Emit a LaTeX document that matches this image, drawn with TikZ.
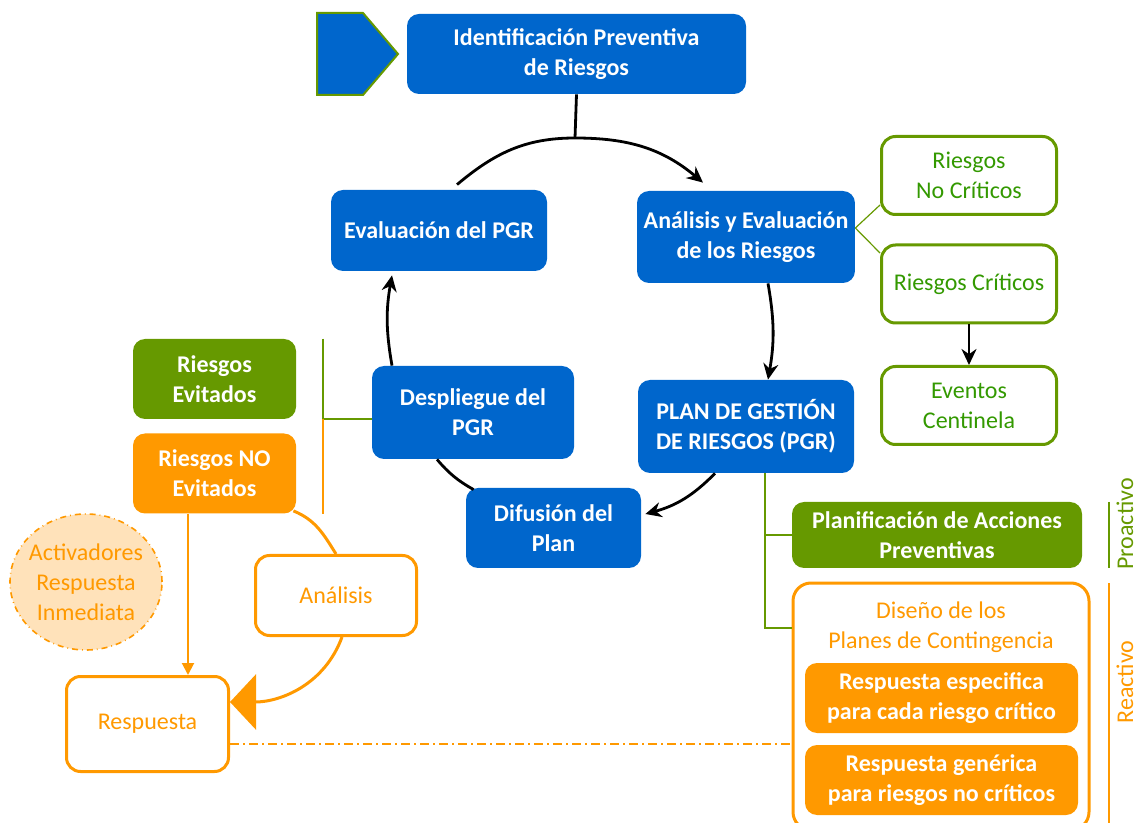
\documentclass[tikz,border=0pt]{standalone}
\usepackage{fontspec}
\setmainfont{Carlito}
\usetikzlibrary{arrows.meta,shapes.geometric}

\definecolor{pgrblue}{RGB}{0,102,204}
\definecolor{pgrgreen}{RGB}{102,153,0}
\definecolor{txtgreen}{RGB}{51,153,0}
\definecolor{pgrorange}{RGB}{255,153,0}
\definecolor{lightorange}{RGB}{255,226,186}

\newcommand\pgrfont{\fontsize{12}{15}\selectfont}

\tikzset{
  bluebox/.style={rectangle, rounded corners=6pt, fill=pgrblue, text=white, font=\pgrfont\bfseries, align=center},
  gframe/.style={rectangle, rounded corners=7pt, draw=pgrgreen, line width=1.5pt, fill=white, text=txtgreen, font=\pgrfont, align=center, minimum width=87.5pt, minimum height=39pt},
  gfill/.style={rectangle, rounded corners=6pt, fill=pgrgreen, text=white, font=\pgrfont\bfseries, align=center},
  ofill/.style={rectangle, rounded corners=6pt, fill=pgrorange, text=white, font=\pgrfont\bfseries, align=center},
  oframe/.style={rectangle, rounded corners=7pt, draw=pgrorange, line width=1.5pt, fill=white, text=pgrorange, font=\pgrfont, align=center},
  otext/.style={text=pgrorange, font=\pgrfont, align=center},
  cyc/.style={draw=black, line width=1.4pt},
  gline/.style={draw=pgrgreen, line width=1pt},
  oline/.style={draw=pgrorange, line width=1.5pt},
}

\begin{document}
\begin{tikzpicture}[x=0.5pt, y=-0.5pt, >={Stealth[length=8pt,width=7.5pt]}]

  \useasboundingbox (0,0) rectangle (1141,823);
  \clip (0,0) rectangle (1141,823);

  % x of the bars beside Proactivo / Reactivo
  \def\xb{1109}

  % arrow shape at the start
  \draw[draw=pgrgreen, fill=pgrblue, line width=1pt] (317,13) -- (363,13) -- (398,54) -- (363,95) -- (317,95) -- cycle;

  % the cycle
  \node[bluebox, minimum width=169.5pt, minimum height=40pt] (ident) at (576.5,54) {Identificación Preventiva\\de Riesgos};
  \node[bluebox, minimum width=108pt, minimum height=40.5pt] (eval) at (439,230.5) {Evaluación del PGR};
  \node[bluebox, minimum width=108pt, minimum height=46pt] (analisis) at (746,237) {Análisis y Evaluación\\de los Riesgos};
  \node[bluebox, minimum width=101pt, minimum height=46.5pt] (despliegue) at (473,412.5) {Despliegue del\\PGR};
  \node[bluebox, minimum width=108pt, minimum height=46.5pt] (plan) at (746,426.5) {PLAN DE GESTIÓN\\DE RIESGOS (PGR)};
  \node[bluebox, minimum width=87.5pt, minimum height=40pt] (difusion) at (553.5,528) {Difusión del\\Plan};

  % kinds of risk
  \node[gframe] (nocrit) at (969,175.5) {Riesgos\\No Críticos};
  \node[gframe] (crit) at (969,284) {Riesgos Críticos};
  \node[gframe] (eventos) at (969,405.5) {Eventos\\Centinela};

  % left side
  \node[gfill, minimum width=81.5pt, minimum height=40pt] (evitados) at (214.5,379) {Riesgos\\Evitados};
  \node[ofill, minimum width=81.5pt, minimum height=40pt] (noevitados) at (214.5,473.5) {Riesgos NO\\Evitados};
  \node[ellipse, draw=pgrorange, fill=lightorange, dash dot, line width=0.8pt, minimum width=76pt, minimum height=68pt, inner sep=0pt,
        label={[otext]center:Activadores\\Respuesta\\Inmediata}] (activadores) at (86,582) {};
  \node[oframe, minimum width=80.5pt, minimum height=40pt] (analisisb) at (336,595.5) {Análisis};
  \node[oframe, minimum width=81pt, minimum height=47.5pt] (respuesta) at (147.5,724) {Respuesta};

  % right side, bottom
  \node[gfill, minimum width=145pt, minimum height=33pt] (planif) at (937,535) {Planificación de Acciones\\Preventivas};
  \node[oframe, rounded corners=9pt, minimum width=148pt, minimum height=123.5pt] (marco) at (941,706.5) {};
  \node[otext] (diseno) at (941,627.5) {Diseño de los\\Planes de Contingencia};
  \node[ofill, minimum width=136.5pt, minimum height=35pt] (respesp) at (941.5,698) {Respuesta especifica\\para cada riesgo crítico};
  \node[ofill, minimum width=136.5pt, minimum height=35pt] (respgen) at (941.5,780) {Respuesta genérica\\para riesgos no críticos};

  \node[rotate=90, text=pgrgreen, font=\pgrfont] (proactivo) at (1125,524) {Proactivo};
  \node[rotate=90, text=pgrorange, font=\pgrfont] (reactivo) at (1125,682) {Reactivo};

  % arrows of the cycle
  \coordinate (top) at (575,138);
  \draw[cyc] (ident.south) -- (top);
  \draw[cyc, ->] ([xshift=9pt,yshift=2.5pt]eval.north) to[out=40,in=180] (top) to[out=0,in=140] ([xshift=-21.5pt,yshift=4pt]analisis.north);
  \draw[cyc, ->] ([xshift=11pt]analisis.south) to[bend left=10] ([xshift=11pt]plan.north);
  \draw[cyc, ->] ([xshift=-15.5pt]plan.south) to[bend left=15] ([xshift=2pt,yshift=7pt]difusion.east);
  \draw[cyc] ([xshift=-18pt]despliegue.south) to[bend right=10] ([xshift=4pt,yshift=-1pt]difusion.north west);
  \draw[cyc, ->] ([xshift=-40.5pt]despliegue.north) to[bend left=10] ([xshift=-23.5pt,yshift=-2pt]eval.south);

  % risks found by the analysis
  \draw[gline, line width=0.6pt] ([yshift=4.5pt]analisis.east) -- ([yshift=-14.75pt]nocrit.west);
  \draw[gline, line width=0.6pt] ([yshift=4.5pt]analisis.east) -- ([yshift=15.5pt]crit.west);
  \draw[cyc, ->] (crit.south) -- (eventos.north);

  % bracket on the left
  \coordinate (brk) at (323,419);
  \draw[gline] (brk |- evitados.north) -- (brk) -- (brk -| despliegue.west);
  \draw[gline, pgrorange] (brk) -- (brk |- noevitados.south);

  % response
  \draw[oline, line width=1pt, -{Triangle[length=6pt,width=6pt]}] ([xshift=-13.25pt]noevitados.south) -- ([xshift=-13.25pt]noevitados.south |- respuesta.north);
  \draw[oline] ([xshift=-1.5pt,yshift=1.5pt]noevitados.south east) to[out=-22,in=122] (analisisb.north);
  \draw[oline, -{Triangle[length=13pt,width=27.5pt]}] ([xshift=3pt]analisisb.south) to[out=-110,in=0] ([yshift=11pt]respuesta.east);
  \draw[pgrorange, line width=1pt, dash pattern=on 4.5pt off 2pt on 1pt off 2pt] ([yshift=-10pt]respuesta.east) -- ([yshift=-10pt]respuesta.east -| marco.west);

  % plan branches
  \draw[gline] ([xshift=9.5pt]plan.south) |- (diseno -| marco.west);
  \draw[gline] ([xshift=9.5pt]plan.south |- planif.west) -- (planif.west);
  \draw[gline] (\xb,502) -- (\xb,568);
  \draw[gline, pgrorange] (\xb,583) -- (\xb,823);

\end{tikzpicture}
\end{document}
